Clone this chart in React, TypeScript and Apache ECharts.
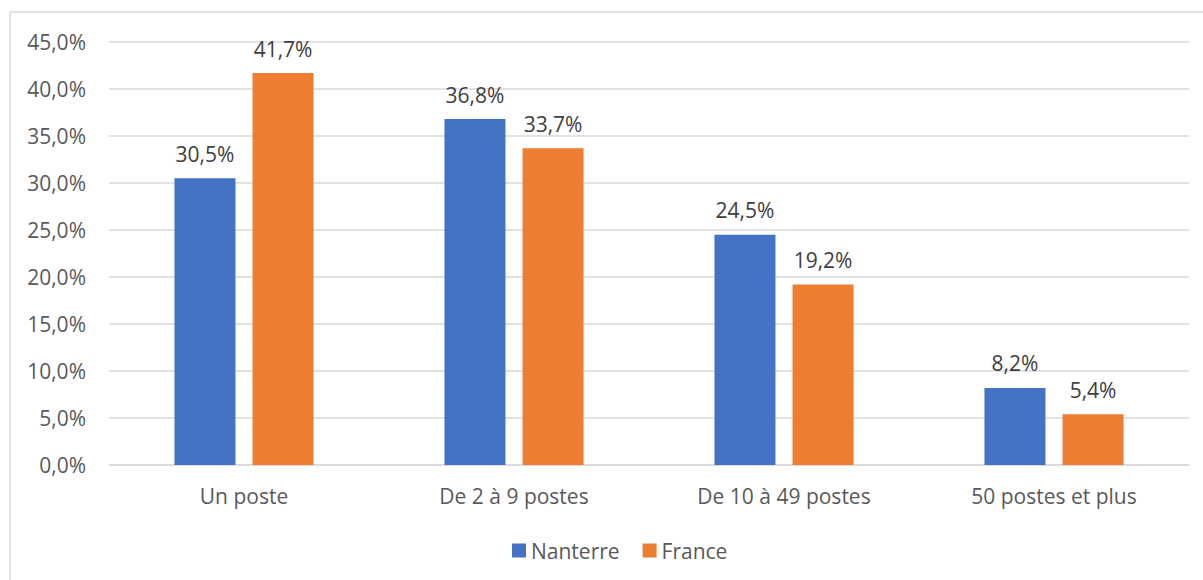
import React, { useEffect, useRef } from "react";
import * as echarts from "echarts";

const categories = ["Un poste", "De 2 à 9 postes", "De 10 à 49 postes", "50 postes et plus"];
const nanterre = [30.5, 36.8, 24.5, 8.2];
const france = [41.7, 33.7, 19.2, 5.4];
const seriesNames = ["Nanterre", "France"];

const fmt = (v: number) => v.toFixed(1).replace(".", ",") + "%";

export default function App() {
  const ref = useRef<HTMLDivElement>(null);
  useEffect(() => {
    const chart = echarts.init(ref.current!, null, { renderer: "svg" });
    const font = "'Open Sans', 'Liberation Sans', sans-serif";
    const fs = 21;
    chart.setOption({
      animation: false,
      backgroundColor: "#ffffff",
      textStyle: { fontFamily: font },
      graphic: [
        {
          type: "rect",
          shape: { x: 10, y: 12, width: 1300, height: 700 },
          style: { fill: "none", stroke: "#d9d9d9", lineWidth: 1.5 },
          silent: true,
        },
      ],
      grid: { left: 109, top: 42, width: 1080, height: 423 },
      legend: {
        left: 507,
        top: 535,
        itemWidth: 14,
        itemHeight: 14,
        itemGap: 23,
        icon: "rect",
        textStyle: { fontSize: fs, color: "#595959", fontFamily: font },
        data: seriesNames,
      },
      xAxis: {
        type: "category",
        data: categories,
        axisLine: { show: true, lineStyle: { color: "#d9d9d9", width: 1.5 } },
        axisTick: { show: false },
        axisLabel: { fontSize: fs, color: "#595959", margin: 20, fontFamily: font },
      },
      yAxis: {
        type: "value",
        min: 0,
        max: 45,
        interval: 5,
        axisLine: { show: false },
        axisTick: { show: false },
        splitLine: { lineStyle: { color: "#d9d9d9", width: 1.5 } },
        axisLabel: {
          fontSize: fs,
          color: "#595959",
          margin: 23,
          fontFamily: font,
          formatter: (v: number) => fmt(v),
        },
      },
      series: [
        {
          name: seriesNames[0],
          type: "bar",
          data: nanterre,
          barWidth: 61,
          barGap: "28%",
          itemStyle: { color: "#4472c4" },
          label: {
            show: true,
            position: "top",
            distance: 14,
            fontSize: fs,
            color: "#404040",
            fontFamily: font,
            formatter: (p: any) => fmt(p.value),
          },
        },
        {
          name: seriesNames[1],
          type: "bar",
          data: france,
          barWidth: 61,
          itemStyle: { color: "#ed7d31" },
          label: {
            show: true,
            position: "top",
            distance: 14,
            fontSize: fs,
            color: "#404040",
            fontFamily: font,
            formatter: (p: any) => fmt(p.value),
          },
        },
      ],
    });
    return () => chart.dispose();
  }, []);
  return (
    <div
      ref={ref}
      style={{ position: "absolute", left: 0, top: 0, width: 1203, height: 580 }}
    />
  );
}
